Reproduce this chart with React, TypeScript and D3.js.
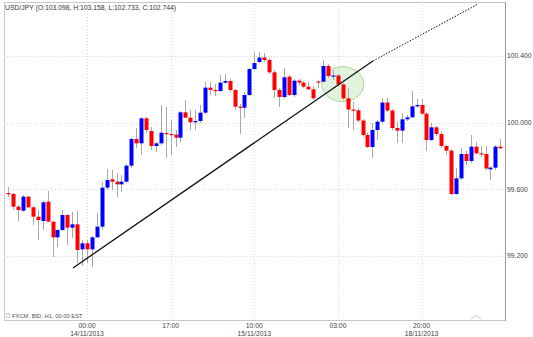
import React from "react";
import * as d3 from "d3";

const title = "USD/JPY (O:103.098, H:103.158, L:102.733, C:102.744)";
const sourceLabel = "FXCM, BID, H1, 00:00 EST";

// candle index 0 = 14/11/2013 00:00 (hourly bars, first bar = index -16)
const firstIndex = -16;
const open = [99.578,99.572,99.496,99.472,99.556,99.492,99.436,99.410,99.526,99.406,99.312,99.356,99.446,99.370,99.390,99.240,99.276,99.240,99.312,99.376,99.610,
  99.660,99.646,99.630,99.646,99.742,99.902,99.876,100.026,99.950,99.860,
  99.876,99.938,99.932,99.928,99.910,100.062,100.030,100.002,100.010,100.060,
  100.210,100.196,100.190,100.240,100.250,100.196,100.096,100.090,100.166,100.322,
  100.364,100.391,100.376,100.302,100.196,100.154,100.276,100.166,100.252,100.240,
  100.216,100.200,100.247,100.246,100.340,100.276,100.283,100.229,100.146,100.079,
  100.074,100.013,99.926,99.854,99.956,100.006,100.121,100.073,99.968,99.952,
  100.020,100.032,100.098,100.106,100.054,99.896,99.972,99.932,99.860,99.832,
  99.572,99.666,99.812,99.770,99.856,99.816,99.812,99.720,99.730,99.856];
const high = [99.614,99.578,99.506,99.566,99.560,99.500,99.476,99.530,99.590,99.410,99.362,99.476,99.452,99.464,99.470,99.296,99.296,99.320,99.458,99.644,99.722,
  99.716,99.698,99.686,99.752,99.908,99.968,100.034,100.034,99.974,99.884,
  100.106,100.094,100.016,99.956,100.070,100.136,100.076,100.076,100.106,100.244,
  100.244,100.232,100.286,100.292,100.262,100.202,100.112,100.184,100.328,100.424,
  100.424,100.418,100.388,100.316,100.208,100.328,100.286,100.262,100.262,100.250,
  100.244,100.220,100.256,100.376,100.352,100.316,100.292,100.238,100.208,100.124,
  100.088,100.022,99.938,99.998,100.016,100.148,100.148,100.082,100.004,100.058,
  100.046,100.190,100.142,100.142,100.064,99.998,99.980,99.950,99.866,99.842,
  99.728,99.848,99.830,99.926,99.884,99.860,99.860,99.740,99.866,99.902];
const low = [99.554,99.476,99.410,99.464,99.488,99.386,99.296,99.356,99.404,99.194,99.254,99.350,99.266,99.308,99.158,99.140,99.158,99.134,99.308,99.356,99.596,
  99.596,99.554,99.584,99.638,99.728,99.848,99.806,99.938,99.836,99.824,
  99.866,99.788,99.806,99.854,99.884,100.028,99.956,99.956,99.998,100.052,
  100.166,100.160,100.184,100.232,100.184,100.076,99.932,100.028,100.160,100.316,
  100.358,100.364,100.292,100.148,100.094,100.142,100.160,100.154,100.220,100.208,
  100.196,100.136,100.208,100.244,100.268,100.256,100.220,100.136,99.968,99.956,
  100.004,99.914,99.848,99.788,99.896,99.998,100.064,99.956,99.878,99.878,
  100.010,100.028,100.088,100.046,99.830,99.890,99.920,99.848,99.806,99.566,
  99.566,99.656,99.746,99.758,99.806,99.794,99.716,99.656,99.716,99.842];
const close = [99.574,99.496,99.476,99.556,99.492,99.436,99.416,99.522,99.406,99.312,99.356,99.446,99.370,99.390,99.236,99.276,99.240,99.312,99.376,99.610,99.656,
  99.646,99.630,99.646,99.742,99.902,99.876,100.026,99.956,99.860,99.876,
  99.940,99.932,99.928,99.910,100.062,100.030,100.002,100.010,100.060,100.210,
  100.196,100.190,100.240,100.250,100.196,100.096,100.090,100.166,100.322,100.358,
  100.391,100.376,100.302,100.196,100.154,100.272,100.166,100.252,100.240,100.216,
  100.200,100.146,100.243,100.340,100.280,100.283,100.229,100.146,100.079,100.074,
  100.013,99.926,99.854,99.956,100.006,100.121,100.073,99.968,99.952,100.020,
  100.032,100.098,100.106,100.054,99.896,99.972,99.932,99.860,99.832,99.572,
  99.666,99.812,99.770,99.856,99.816,99.812,99.725,99.730,99.856,99.846];

const xTickIndex = [0, 17, 34, 51, 68];
const xTickTime = ["00:00", "17:00", "10:00", "03:00", "20:00"];
const xTickDate = ["14/11/2013", "", "15/11/2013", "", "18/11/2013"];
const yTicks = [99.2, 99.6, 100.0, 100.4];

// trend line anchors: [index, price]
const trendSolid = [[-2.85, 99.128], [58.1, 100.370]];
const trendDotted = [[58.1, 100.370], [79.5, 100.712]];
const circleCenter = [52, 100.231];

const W = 533, H = 337;
const L = 4, R = 505, T = 2, B = 320;

export default function App() {
  const x = d3.scaleLinear().domain([-16.87, 84.96]).range([L, R]);
  const y = d3.scaleLinear().domain([98.816, 100.724]).range([B, T]);
  const line = d3.line<number[]>().x(d => x(d[0])).y(d => y(d[1]));
  const bw = 4;
  const candles = open.map((o, k) => ({ i: firstIndex + k, o, h: high[k], l: low[k], c: close[k] }));
  return (
    <svg width={W} height={H} style={{ position: "absolute", left: 0, top: 0, background: "#fff" }}
      fontFamily="Liberation Sans, Arial, sans-serif">
      <defs>
        <clipPath id="plot"><rect x={L} y={T} width={R - L} height={B - T} /></clipPath>
      </defs>
      <rect x={L + 0.5} y={T + 0.5} width={R - L} height={B - T} fill="#fff" stroke="#c8c8c8" />
      {yTicks.map(t => (
        <line key={"gy" + t} x1={L} x2={R} y1={Math.round(y(t)) + 0.5} y2={Math.round(y(t)) + 0.5}
          stroke="#d8d8d8" strokeDasharray="1,2" />
      ))}
      {xTickIndex.map(t => (
        <line key={"gx" + t} x1={Math.round(x(t)) + 0.5} x2={Math.round(x(t)) + 0.5} y1={T} y2={B}
          stroke="#d8d8d8" strokeDasharray="1,2" />
      ))}
      <g clipPath="url(#plot)">
        <ellipse cx={x(circleCenter[0])} cy={y(circleCenter[1])} rx={21} ry={17.5}
          fill="rgba(190,228,180,0.45)" stroke="#a8d49a" strokeWidth={1} />
        {candles.map(d => {
          const cx = Math.round(x(d.i)) + 0.5;
          const up = d.c >= d.o;
          const top = y(Math.max(d.o, d.c));
          const bot = y(Math.min(d.o, d.c));
          return (
            <g key={d.i}>
              <line x1={cx} x2={cx} y1={y(d.h)} y2={y(d.l)} stroke="#a8a8a8" strokeWidth={1} />
              <rect x={cx - bw / 2} y={top} width={bw} height={Math.max(1.2, bot - top)}
                fill={up ? "#0000ff" : "#ff0000"} />
            </g>
          );
        })}
        <path d={line(trendSolid) || ""} stroke="#111" strokeWidth={1.3} fill="none" />
        <path d={line(trendDotted) || ""} stroke="#111" strokeWidth={1} strokeDasharray="1.5,1.5" fill="none" />
      </g>
      <line x1={R + 0.5} x2={R + 0.5} y1={T} y2={B + 1} stroke="#999" />
      {yTicks.map(t => (
        <text key={"ty" + t} x={R + 2} y={y(t)} dy="0.35em" fontSize={6.8} fill="#444">{t.toFixed(3)}</text>
      ))}
      {xTickIndex.map((t, k) => (
        <g key={"tx" + t}>
          <text x={x(t)} y={328} textAnchor="middle" fontSize={6.8} fill="#444">{xTickTime[k]}</text>
          <text x={x(t)} y={335.5} textAnchor="middle" fontSize={6.8} fill="#444">{xTickDate[k]}</text>
        </g>
      ))}
      <text x={5} y={10} fontSize={6.8} fill="#333">{title}</text>
      <rect x={6.5} y={313.5} width={3} height={4} fill="#fff" stroke="#bbb" strokeWidth={0.7} />
      <text x={12} y={318} fontSize={5.8} fill="#555">{sourceLabel}</text>
      <path d="M471,319 L476,315.5 L481,319" fill="none" stroke="#ccc" strokeWidth={1} />
    </svg>
  );
}
